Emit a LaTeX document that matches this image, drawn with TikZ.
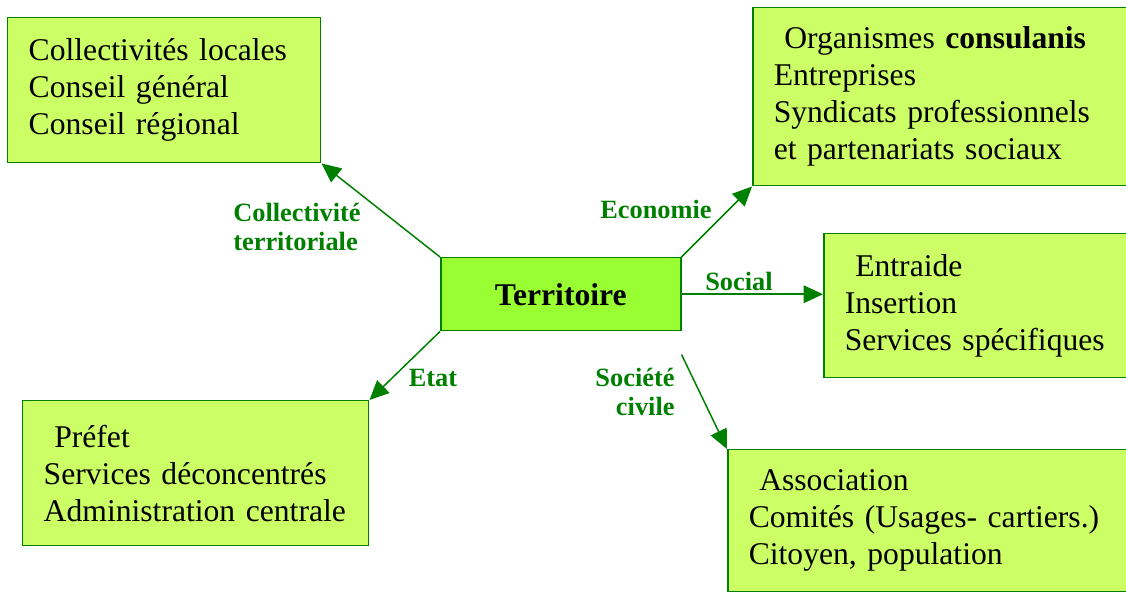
\documentclass[tikz,border=0pt]{standalone}
\usepackage{fontspec}
\setmainfont{Liberation Serif}
\usetikzlibrary{arrows.meta,calc}
\definecolor{boxfill}{HTML}{CCFF66}
\definecolor{ctrfill}{HTML}{99FF33}
\definecolor{edgegreen}{HTML}{008000}
\tikzset{
  actor/.style = {draw = edgegreen, fill = boxfill, line width = 0.85pt, anchor = north west,
    align = left, inner xsep = 0.42cm, inner ysep = 0pt, font = \fontsize{18}{21}\selectfont},
  centre/.style = {draw = edgegreen, fill = ctrfill, line width = 0.85pt, anchor = north west,
    minimum width = 4.8cm, minimum height = 1.46cm, font = \fontsize{18}{21}\selectfont\bfseries},
  link/.style = {draw = edgegreen, line width = 0.85pt, -{Triangle[length = 11pt, width = 10pt]}},
  tag/.style = {text = edgegreen, inner sep = 0pt, font = \fontsize{15}{16}\selectfont\bfseries}
}
\begin{document}
\begin{tikzpicture}
\clip (0,0) rectangle (22.52,11.84);
\node[centre] (ctr) at (8.80,6.70) {Territoire};
\node[actor, text width = 5.42cm, minimum height = 2.90cm] (coll) at (0.14,11.50)
  {Collectivités locales\\Conseil général\\Conseil régional};
\node[actor, text width = 7.16cm, minimum height = 3.56cm] (eco) at (15.04,11.70)
  {\ Organismes \textbf{consulanis}\\Entreprises\\Syndicats professionnels\\et partenariats sociaux};
\node[actor, text width = 7.16cm, minimum height = 2.88cm] (soc) at (16.46,7.18)
  {\ Entraide\\Insertion\\Services spécifiques};
\node[actor, text width = 6.08cm, minimum height = 2.90cm] (etat) at (0.44,3.84)
  {\ Préfet\\Services déconcentrés\\Administration centrale};
\node[actor, text width = 7.16cm, minimum height = 2.84cm] (civ) at (14.54,2.86)
  {\ Association\\Comités (Usages- cartiers.)\\Citoyen, population};
\coordinate (civstart) at ($(ctr.south east)+(0,-0.46)$);
\draw[link] (ctr.north west) -- (coll.south east);
\draw[link] (ctr.north east) -- (eco.south west);
\draw[link] (ctr.east) -- (ctr.east -| soc.west);
\draw[link] (ctr.south west) -- (etat.north east);
\draw[link] (civstart) -- (civ.north west);
\node[tag, align = left] (tcoll) at (5.94,7.30) {Collectivité\\territoriale};
\node[tag] (teco) at (13.12,7.66) {Economie};
\node[tag] (tsoc) at (14.78,6.22) {Social};
\node[tag] (tetat) at (8.66,4.28) {Etat};
\node[tag, align = right] (tciv) at (12.70,4.00) {Société\\civile};
\end{tikzpicture}
\end{document}
